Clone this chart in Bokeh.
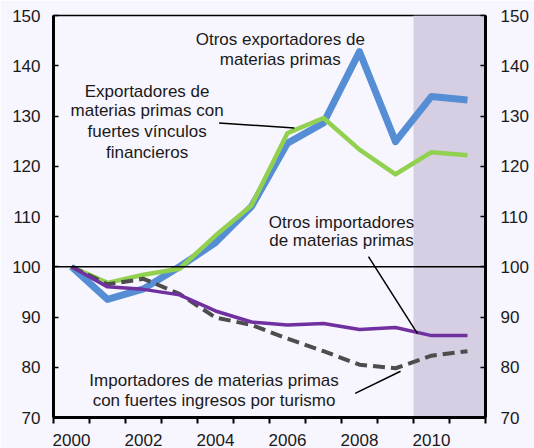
from bokeh.plotting import figure
from bokeh.models import Range1d, FixedTicker, LinearAxis, Span, BoxAnnotation, ColumnDataSource
from bokeh.core.properties import value
from bokeh.embed import file_html
from bokeh.resources import INLINE

# ---- data ----
years = [2000, 2001, 2002, 2003, 2004, 2005, 2006, 2007, 2008, 2009, 2010, 2011]
otros_exportadores = [100, 93.5, 95.6, 100.0, 104.8, 112.0, 124.6, 128.6, 142.8, 124.9, 133.9, 133.2]
exportadores_vinculos = [100, 96.8, 98.4, 99.6, 106.2, 112.2, 126.6, 129.6, 123.3, 118.4, 122.8, 122.2]
otros_importadores = [100, 96.0, 95.5, 94.4, 91.2, 89.0, 88.4, 88.7, 87.5, 87.9, 86.3, 86.3]
importadores_turismo = [100, 96.5, 97.6, 94.6, 89.9, 88.4, 85.7, 83.2, 80.5, 79.8, 82.3, 83.2]

x_tick_labels = [2000, 2002, 2004, 2006, 2008, 2010]
y_ticks = [70, 80, 90, 100, 110, 120, 130, 140, 150]
projection_start = 2009.5
projection_end = 2011.5
baseline = 100

# annotation texts (x, y in data units)
ann_text = [
    "Otros exportadores de", "materias primas",
    "Exportadores de", "materias primas con", "fuertes vínculos", "financieros",
    "Otros importadores", "de materias primas",
    "Importadores de materias primas", "con fuertes ingresos por turismo",
]
ann_x = [2005.8, 2005.8, 2002.1, 2002.1, 2002.1, 2002.1, 2007.5, 2007.5, 2003.96, 2003.96]
ann_y = [145.2, 141.3, 134.9, 131.1, 127.0, 122.8, 108.9, 105.3, 77.4, 73.4]

lead_x0 = [2004.10, 2008.25, 2007.88]
lead_y0 = [128.6, 102.0, 74.8]
lead_x1 = [2006.19, 2009.61, 2009.14]
lead_y1 = [127.6, 86.7, 79.2]

BG = "#F7F5FD"
FONT = "Liberation Sans"

p = figure(width=534, height=448, output_backend="svg", toolbar_location=None,
           x_range=Range1d(1999.5, 2011.5), y_range=Range1d(70, 150),
           min_border_left=53, min_border_right=49, min_border_top=15, min_border_bottom=30)
p.background_fill_color = BG
p.border_fill_color = BG
p.outline_line_color = "black"
p.outline_line_width = 1.5
p.grid.visible = False

shade = BoxAnnotation(left=projection_start, right=projection_end, fill_color="#D6CFE3",
                      fill_alpha=1.0, line_color=None, level="underlay")
p.add_layout(shade)
p.add_layout(Span(location=baseline, dimension="width", line_color="black", line_width=1.5))

src = ColumnDataSource(dict(x=years, a=otros_exportadores, b=exportadores_vinculos,
                            c=otros_importadores, d=importadores_turismo))
p.line("x", "a", source=src, line_color="#558ED5", line_width=7, line_join="round")
p.line("x", "b", source=src, line_color="#92D050", line_width=4.5, line_join="round")
p.line("x", "d", source=src, line_color="#4D4D4D", line_width=4, line_dash="12 6")
p.line("x", "c", source=src, line_color="#7030A0", line_width=3.5, line_join="round")

p.segment(x0=lead_x0, y0=lead_y0, x1=lead_x1, y1=lead_y1, line_color="black", line_width=1.5)
p.text(x=ann_x, y=ann_y, text=ann_text, text_font=value(FONT), text_font_size="17px",
       text_align="center", text_baseline="middle", text_color="#1A1A1A")

# x axis
xa = p.xaxis[0]
xa.ticker = FixedTicker(ticks=x_tick_labels,
                        minor_ticks=[y + 0.5 for y in range(1999, 2012)])
xa.major_tick_line_color = None
xa.major_tick_out = 0
xa.major_tick_in = 0
xa.minor_tick_out = 6
xa.minor_tick_in = 0
xa.minor_tick_line_width = 2
xa.axis_line_width = 3
xa.major_label_standoff = 10
xa.major_label_text_font = FONT
xa.major_label_text_font_size = "17px"
xa.major_label_text_color = "#1A1A1A"

def style_y(ax, standoff):
    ax.ticker = FixedTicker(ticks=y_ticks)
    ax.major_tick_in = 5
    ax.major_tick_out = 0
    ax.major_tick_line_width = 1.5
    ax.minor_tick_line_color = None
    ax.axis_line_width = 3
    ax.major_label_standoff = standoff
    ax.major_label_text_font = FONT
    ax.major_label_text_font_size = "17px"
    ax.major_label_text_color = "#1A1A1A"

style_y(p.yaxis[0], 13)
ry = LinearAxis()
p.add_layout(ry, "right")
style_y(ry, 15)

open("out.html", "w").write(file_html(p, INLINE))
